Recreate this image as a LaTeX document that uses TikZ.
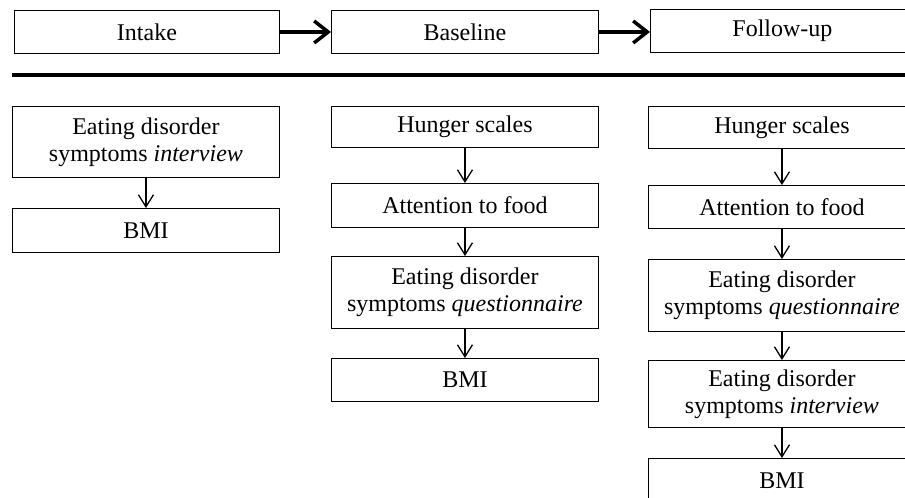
\documentclass[tikz,border=0pt]{standalone}
\usepackage{fontspec}
\setmainfont{Liberation Serif}
\usetikzlibrary{arrows.meta}
\begin{document}
\begin{tikzpicture}[x=1pt,y=-1pt,
  bx/.style={draw=black, line width=0.9pt, rectangle, anchor=north west, inner sep=0pt,
    align=center, font=\fontsize{24}{27}\selectfont},
  thin/.style={line width=1.3pt, -{Straight Barb[length=12pt,width=15pt,line width=1.3pt]}},
  thick/.style={line width=3.5pt, -{Straight Barb[length=14pt,width=22pt,line width=3.5pt]}}]
\useasboundingbox (0,0) rectangle (905,498);
\clip (0,0) rectangle (905,498);
% top row
\node[bx, minimum width=265pt, minimum height=43pt] (intake) at (14,10) {Intake};
\node[bx, minimum width=267pt, minimum height=43pt] (base) at (331,10) {Baseline};
\node[bx, minimum width=264pt, minimum height=43pt] (follow) at (650,9) {Follow-up};
\draw[thick] (intake.east) -- (base.west);
\draw[thick] (base.east) -- (follow.west |- base.east);
% rule
\coordinate (r1) at (12,75);
\coordinate (r2) at (905,75);
\draw[line width=4pt] (r1) -- (r2);
% left column
\node[bx, minimum width=267pt, minimum height=71pt] (a1) at (12,106) {Eating disorder\\symptoms \textit{interview}};
\node[bx, minimum width=267pt, minimum height=44pt] (a2) at (12,208) {BMI};
\draw[thin] (a1.south) -- (a2.north);
% middle column
\node[bx, minimum width=267pt, minimum height=41pt] (b1) at (331,106) {Hunger scales};
\node[bx, minimum width=267pt, minimum height=44pt] (b2) at (331,183) {Attention to food};
\node[bx, minimum width=267pt, minimum height=72pt] (b3) at (331,256) {Eating disorder\\symptoms \textit{questionnaire}};
\node[bx, minimum width=267pt, minimum height=43pt] (b4) at (331,358) {BMI};
\draw[thin] (b1.south) -- (b2.north);
\draw[thin] (b2.south) -- (b3.north);
\draw[thin] (b3.south) -- (b4.north);
% right column
\node[bx, minimum width=267pt, minimum height=42pt] (c1) at (648,106) {Hunger scales};
\node[bx, minimum width=267pt, minimum height=43pt] (c2) at (648,185) {Attention to food};
\node[bx, minimum width=267pt, minimum height=72pt] (c3) at (648,259) {Eating disorder\\symptoms \textit{questionnaire}};
\node[bx, minimum width=267pt, minimum height=67pt] (c4) at (648,360) {Eating disorder\\symptoms \textit{interview}};
\node[bx, minimum width=267pt, minimum height=44pt] (c5) at (648,458) {BMI};
\draw[thin] (c1.south) -- (c2.north);
\draw[thin] (c2.south) -- (c3.north);
\draw[thin] (c3.south) -- (c4.north);
\draw[thin] (c4.south) -- (c5.north);
\end{tikzpicture}
\end{document}
